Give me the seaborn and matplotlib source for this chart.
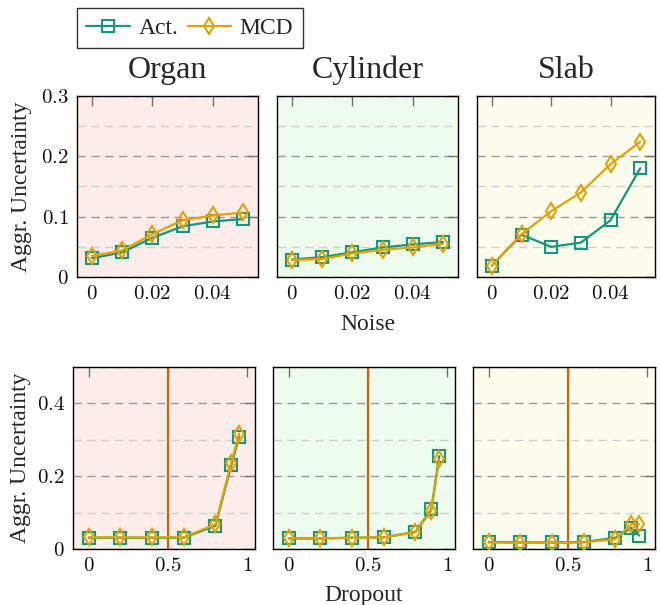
import numpy as np
import pandas as pd
import seaborn as sns
import matplotlib
matplotlib.use("Agg")
import matplotlib.pyplot as plt
from matplotlib.ticker import MultipleLocator, FixedLocator, FuncFormatter

# ---------------- data ----------------
panels = ["Organ", "Cylinder", "Slab"]
series = ["Act.", "MCD"]

noise = [0, 0.01, 0.02, 0.03, 0.04, 0.05]
organ_noise_act = [0.031, 0.041, 0.065, 0.084, 0.092, 0.096]
organ_noise_mcd = [0.035, 0.044, 0.071, 0.094, 0.102, 0.107]
cyl_noise_act = [0.029, 0.033, 0.041, 0.049, 0.054, 0.058]
cyl_noise_mcd = [0.028, 0.030, 0.039, 0.045, 0.049, 0.055]
slab_noise_act = [0.019, 0.070, 0.050, 0.057, 0.094, 0.180]
slab_noise_mcd = [0.019, 0.071, 0.109, 0.140, 0.187, 0.224]

dropout = [0, 0.2, 0.4, 0.6, 0.8, 0.9, 0.95]
organ_drop_act = [0.031, 0.031, 0.031, 0.031, 0.064, 0.230, 0.308]
organ_drop_mcd = [0.032, 0.032, 0.032, 0.032, 0.068, 0.237, 0.317]
cyl_drop_act = [0.029, 0.029, 0.031, 0.032, 0.047, 0.109, 0.255]
cyl_drop_mcd = [0.029, 0.029, 0.031, 0.032, 0.046, 0.105, 0.246]
slab_drop_act = [0.019, 0.018, 0.018, 0.019, 0.031, 0.058, 0.037]
slab_drop_mcd = [0.018, 0.017, 0.017, 0.018, 0.027, 0.068, 0.068]

noise_ticks = [0, 0.02, 0.04]
drop_ticks = [0, 0.5, 1]
noise_yticks = [0, 0.1, 0.2, 0.3]
drop_yticks = [0, 0.2, 0.4]
dropout_marker = 0.5

# ---------------- style ----------------
sns.set_style("white")
plt.rcParams["font.family"] = ["Liberation Serif", "DejaVu Serif"]
plt.rcParams["mathtext.fontset"] = "cm"

GREEN = "#14977a"
ORANGE = "#e5a100"
VLINE = "#d95f02"
BG = {"Organ": "#fcedea", "Cylinder": "#eefcee", "Slab": "#fdfdee"}

W, H = 660, 605
fig = plt.figure(figsize=(W / 100, H / 100), dpi=100)

def px_axes(x0, x1, y0, y1):
    return fig.add_axes([x0 / W, 1 - y1 / H, (x1 - x0) / W, (y1 - y0) / H])

top_x = [(77, 258), (277, 458), (477, 655)]
bot_x = [(73, 255), (273, 455), (473, 655)]
top_y = (96, 277)
bot_y = (367, 549)

top_data = [(organ_noise_act, organ_noise_mcd), (cyl_noise_act, cyl_noise_mcd),
            (slab_noise_act, slab_noise_mcd)]
bot_data = [(organ_drop_act, organ_drop_mcd), (cyl_drop_act, cyl_drop_mcd),
            (slab_drop_act, slab_drop_mcd)]

fmt = FuncFormatter(lambda v, p: "$%s$" % ("%g" % round(v, 4)))

def style_axes(ax, name, xlim, ylim, xticks, yticks, minor_step, show_ylabels):
    ax.set_facecolor(BG[name])
    ax.set_xlim(*xlim)
    ax.set_ylim(*ylim)
    ax.xaxis.set_major_locator(FixedLocator(xticks))
    ax.yaxis.set_major_locator(FixedLocator(yticks))
    ax.yaxis.set_minor_locator(MultipleLocator(minor_step))
    ax.xaxis.set_major_formatter(fmt)
    ax.yaxis.set_major_formatter(fmt)
    ax.set_axisbelow(True)
    ax.yaxis.grid(True, which="major", color="#9a9a9a", lw=1.0, ls=(0, (6, 4)))
    ax.yaxis.grid(True, which="minor", color="#cfcfcf", lw=1.0, ls=(0, (6, 4)))
    ax.tick_params(which="major", direction="in", top=True, right=True,
                   length=7, width=1.0, color="#6f6f6f", labelsize=15, pad=6,
                   labelcolor="#111111")
    ax.tick_params(which="minor", length=0)
    if not show_ylabels:
        ax.tick_params(axis="y", labelleft=False)
    for s in ax.spines.values():
        s.set_color("black")
        s.set_linewidth(1.0)
    ax.set_xlabel("")
    ax.set_ylabel("")

line_kw = dict(linewidth=1.6, markeredgewidth=1.5, markerfacecolor="none",
               legend=False, sort=False)

def draw(ax, x, act, mcd):
    sns.lineplot(x=x, y=act, ax=ax, color=GREEN, marker="s", markersize=8,
                 markeredgecolor=GREEN, label=series[0], zorder=3, **line_kw)
    sns.lineplot(x=x, y=mcd, ax=ax, color=ORANGE, marker="d", markersize=8,
                 markeredgecolor=ORANGE, label=series[1], zorder=4, **line_kw)

top_axes = []
for i, name in enumerate(panels):
    ax = px_axes(*top_x[i], *top_y)
    draw(ax, noise, *top_data[i])
    style_axes(ax, name, (-0.005, 0.055), (0, 0.3), noise_ticks, noise_yticks,
               0.05, i == 0)
    ax.set_title(name, fontsize=23, pad=13)
    top_axes.append(ax)

bot_axes = []
for i, name in enumerate(panels):
    ax = px_axes(*bot_x[i], *bot_y)
    ax.axvline(dropout_marker, color=VLINE, lw=1.6, zorder=2)
    draw(ax, dropout, *bot_data[i])
    style_axes(ax, name, (-0.1, 1.05), (0, 0.5), drop_ticks, drop_yticks,
               0.1, i == 0)
    bot_axes.append(ax)

# axis labels
for ax, (x0, x1), xc in [(top_axes[0], top_x[0], 22), (bot_axes[0], bot_x[0], 21)]:
    ax.set_ylabel("Aggr. Uncertainty", fontsize=17, va="center")
    ax.yaxis.set_label_coords((xc - x0) / (x1 - x0), 0.5)

top_axes[1].set_xlabel("Noise", fontsize=17, va="baseline")
top_axes[1].xaxis.set_label_coords(0.5, -(330 - top_y[1]) / (top_y[1] - top_y[0]))
bot_axes[1].set_xlabel("Dropout", fontsize=17, va="baseline")
bot_axes[1].xaxis.set_label_coords(0.5, -(601 - bot_y[1]) / (bot_y[1] - bot_y[0]))

# legend
handles, labels = top_axes[0].get_legend_handles_labels()
leg = fig.legend(handles, labels, loc="upper left", bbox_to_anchor=(77 / W, 1 - 8 / H),
                 ncol=2, fontsize=17, frameon=True, fancybox=False, borderaxespad=0,
                 handlelength=1.85, handletextpad=0.35, columnspacing=0.4,
                 borderpad=0.4)
leg.get_frame().set_edgecolor("black")
leg.get_frame().set_linewidth(1.0)

fig.savefig("out.png", dpi=100)
